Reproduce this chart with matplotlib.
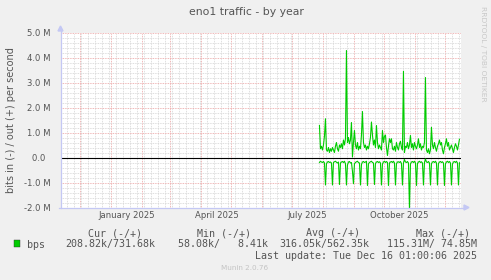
import matplotlib
matplotlib.use("Agg")
import matplotlib.pyplot as plt
import matplotlib.dates as mdates
import matplotlib.transforms as mtransforms
from matplotlib.patches import Rectangle, Polygon
from matplotlib.lines import Line2D
import numpy as np
import pandas as pd
from datetime import datetime, timedelta

# ---------------- data ----------------
series_start = "2025-07-28"
# out (+) traffic, Mbit/s, daily
out_vals = [
    1.28, 0.35, 0.45, 0.30, 0.50, 0.85, 1.55, 0.30, 0.25, 0.40,
    0.20, 0.35, 0.25, 0.40, 0.30, 0.20, 0.45, 0.60, 0.35, 0.25,
    0.50, 0.40, 0.55, 0.35, 0.70, 0.50, 0.75, 4.28, 0.60, 0.80,
    0.55, 0.70, 1.40, 0.02, 0.60, 1.08, 0.50, 0.35, 0.60, 0.30,
    0.45, 0.35, 0.90, 1.84, 0.60, 0.40, 0.50, 0.30, 0.45, 0.35,
    0.55, 0.80, 1.42, 0.90, 0.50, 0.70, 0.40, 1.28, 0.60, 0.35,
    0.50, 0.40, 0.30, 1.08, 0.60, 0.85, 0.90, 0.40, 0.08, 0.45,
    0.75, 0.60, 0.75, 0.35, 0.30, 0.45, 0.25, 0.60, 0.40, 0.30,
    0.55, 0.65, 0.40, 0.30, 3.45, 0.20, 0.45, 0.40, 0.60, 0.35,
    0.50, 0.88, 0.40, 0.55, 0.30, 0.60, 0.45, 0.35, 0.50, 0.75,
    0.40, 0.55, 0.30, 0.45, 0.40, 0.60, 3.20, 0.30, 0.20, 0.35,
    0.15, 0.30, 1.21, 0.50, 0.35, 0.60, 0.40, 0.25, 0.45, 0.55,
    0.70, 0.50, 0.60, 0.30, 0.15, 0.40, 0.55, 0.75, 0.45, 0.60,
    0.30, 0.40, 0.50, 0.35, 0.20, 0.40, 0.55, 0.45, 0.30, 0.50,
    0.73,
]
# in (-) traffic, Mbit/s, daily (drawn negative)
in_vals = [
    0.20, 0.15, 0.18, 0.20, 0.16, 0.22, 1.10, 0.25, 0.18, 0.16,
    0.20, 0.18, 0.22, 1.10, 0.20, 0.17, 0.15, 0.19, 0.22, 0.18,
    1.08, 0.22, 0.18, 0.16, 0.20, 0.15, 0.25, 1.10, 0.30, 0.18,
    0.16, 0.22, 0.20, 0.55, 1.05, 0.25, 0.20, 0.17, 0.15, 0.20,
    0.22, 1.10, 0.28, 0.18, 0.16, 0.20, 0.18, 0.15, 1.12, 0.25,
    0.20, 0.17, 0.15, 0.20, 0.22, 1.08, 0.24, 0.18, 0.16, 0.20,
    0.17, 0.22, 1.10, 0.26, 0.18, 0.15, 0.20, 0.16, 0.20, 1.12,
    0.22, 0.18, 0.16, 0.20, 0.15, 0.22, 1.10, 0.25, 0.18, 0.17,
    0.20, 0.16, 0.24, 1.10, 0.22, 0.08, 0.18, 0.20, 0.16, 0.22,
    2.05, 0.26, 0.18, 0.16, 0.20, 0.15, 0.22, 1.12, 0.24, 0.18,
    0.15, 0.20, 0.17, 0.22, 1.10, 0.20, 0.06, 0.18, 0.20, 0.16,
    0.22, 1.10, 0.25, 0.18, 0.16, 0.20, 0.15, 0.22, 1.10, 0.24,
    0.18, 0.16, 0.20, 0.17, 0.22, 1.12, 0.25, 0.18, 0.15, 0.20,
    0.16, 0.22, 1.10, 0.26, 0.18, 0.16, 0.20, 0.15, 0.22, 1.10,
    0.21,
]
y_ticks = [-2.0, -1.0, 0.0, 1.0, 2.0, 3.0, 4.0, 5.0]
y_tick_labels = ["-2.0 M", "-1.0 M", "0.0  ", "1.0 M", "2.0 M", "3.0 M", "4.0 M", "5.0 M"]
x_label_months = ["2025-01-16", "2025-04-16", "2025-07-16", "2025-10-16"]
x_label_texts = ["January 2025", "April 2025", "July 2025", "October 2025"]
view_start = datetime(2024, 11, 11, 1, 0, 6)
view_end = datetime(2025, 12, 16, 1, 0, 6)

legend_header = ["Cur (-/+)", "Min (-/+)", "Avg (-/+)", "Max (-/+)"]
legend_values = ["208.82k/731.68k", "58.08k/   8.41k", "316.05k/562.35k", "115.31M/ 74.85M"]
series_name = "bps"
title = "eno1 traffic - by year"
ylabel = "bits in (-) / out (+) per second"
last_update = "Last update: Tue Dec 16 01:00:06 2025"

# ---------------- figure ----------------
W, H = 491, 280
fig = plt.figure(figsize=(W / 100, H / 100), dpi=100, facecolor="#F0F0F0")

def fx(x):
    return x / W

def fy(y):
    return 1 - y / H

L, R, T, B = 60.5, 460.5, 32.5, 207.5
ax = fig.add_axes([fx(L), fy(B), fx(R) - fx(L), fy(T) - fy(B)])
ax.set_facecolor("white")

dates = pd.date_range(series_start, periods=len(out_vals), freq="D")
out_arr = np.array(out_vals)
in_arr = -np.array(in_vals)

GREEN = "#00CC00"
ax.plot(dates, out_arr, color=GREEN, lw=0.8, zorder=4)
ax.plot(dates, in_arr, color=GREEN, lw=0.8, zorder=4)
ax.axhline(0, color="black", lw=0.8, zorder=3)

ax.set_xlim(view_start, view_end)
ax.set_ylim(-2.0, 5.0)

# grid
ax.xaxis.set_major_locator(mdates.MonthLocator())
ax.xaxis.set_minor_locator(mdates.WeekdayLocator(byweekday=mdates.MO))
ax.set_yticks(y_ticks)
ax.set_yticks(np.arange(-2.0, 5.01, 0.2), minor=True)
ax.set_yticklabels(y_tick_labels)
ax.xaxis.set_major_formatter(matplotlib.ticker.NullFormatter())

ax.grid(which="minor", color="#D4D4D4", linestyle=(0, (1, 1)), lw=0.6, zorder=1)
ax.grid(which="major", color="#EBA0A0", linestyle=(0, (1, 1)), lw=0.6, zorder=2)
ax.set_axisbelow(True)

ax.tick_params(which="both", length=0)
ax.tick_params(axis="y", labelsize=6.1, labelcolor="#555555", pad=7)
for s in ax.spines.values():
    s.set_visible(False)

# x labels (centered mid-month)
trans = mtransforms.blended_transform_factory(ax.transData, fig.transFigure)
for d, t in zip(x_label_months, x_label_texts):
    ax.text(mdates.date2num(pd.Timestamp(d)), fy(215), t, transform=trans,
            ha="center", va="center", fontsize=6.1, color="#555555")

# axes lines with arrows
AX = "#C4C8F4"
fig.add_artist(Line2D([fx(L), fx(L)], [fy(B), fy(29)], color=AX, lw=0.9))
fig.add_artist(Line2D([fx(L - 2), fx(465)], [fy(B), fy(B)], color=AX, lw=0.9))
fig.add_artist(Polygon([[fx(L - 2.5), fy(31)], [fx(L + 2.5), fy(31)], [fx(L), fy(26)]],
                       closed=True, color=AX, transform=fig.transFigure))
fig.add_artist(Polygon([[fx(464), fy(B - 2.5)], [fx(464), fy(B + 2.5)], [fx(469), fy(B)]],
                       closed=True, color=AX, transform=fig.transFigure))

# texts
fig.text(fx(246), fy(12), title, ha="center", va="center", fontsize=7.8, color="#555555")
fig.text(fx(10.7), fy(120), ylabel, ha="center", va="center", rotation=90,
         fontsize=7.0, color="#555555")
fig.text(fx(482.5), fy(54), "RRDTOOL / TOBI OETIKER", ha="center", va="center",
         rotation=270, fontsize=5.4, color="#C8C8C8")

MONO = "DejaVu Sans Mono"
hdr_x = [115, 224, 333, 443]
for x, t in zip(hdr_x, legend_header):
    fig.text(fx(x), fy(233), t, ha="center", va="center", family=MONO,
             fontsize=7.2, color="#555555")
val_x = [65, 178, 279, 387]
for x, t in zip(val_x, legend_values):
    fig.text(fx(x), fy(244.5), t, ha="left", va="center", family=MONO,
             fontsize=7.2, color="#555555")
fig.add_artist(Rectangle((fx(14), fy(246.5)), fx(6) - fx(0), fy(240) - fy(246.5),
                         facecolor=GREEN, edgecolor="#333333", lw=0.3,
                         transform=fig.transFigure))
fig.text(fx(27), fy(244.5), series_name, ha="left", va="center", family=MONO,
         fontsize=7.2, color="#555555")
fig.text(fx(477), fy(256), last_update, ha="right", va="center", family=MONO,
         fontsize=7.2, color="#555555")
fig.text(fx(245), fy(268.5), "Munin 2.0.76", ha="center", va="center",
         fontsize=5.2, color="#C4C4C4")

fig.savefig("out.png", dpi=100, facecolor=fig.get_facecolor())
